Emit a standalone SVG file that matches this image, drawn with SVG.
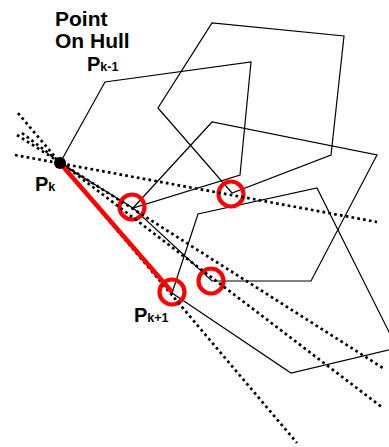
<svg xmlns="http://www.w3.org/2000/svg" width="389" height="447" viewBox="0 0 389 447">
<style>
.poly{fill:none;stroke:#000;stroke-width:1.2;stroke-linejoin:miter}
.dot{fill:none;stroke:#000;stroke-width:2.7;stroke-dasharray:2.7 3.2}
.ring{fill:none;stroke:#ff0000;stroke-width:4.2}
.edge{stroke:#ff0000;stroke-width:4.5;stroke-linecap:butt}
.lbl{font-family:"Liberation Sans",Arial,sans-serif;font-weight:bold;fill:#000}
</style>
<rect width="389" height="447" fill="#fff"/>
<g id="polygon1"><polygon class="poly" points="60,163 105,82 251,62 240,175 133,208"/></g>
<g id="polygon2"><polygon class="poly" points="158,108 232,193 331,155 344,36 212,23"/></g>
<g id="polygon3"><polygon class="poly" points="133,208 212,122 377,155 311,281 212,281"/></g>
<g id="polygon4"><polygon class="poly" points="172,293 198,214 317,188 397,348 291,373"/></g>
<g id="candidates">
<circle id="c1" class="ring" cx="132" cy="207" r="12.5"/>
<circle id="c2" class="ring" cx="231" cy="194" r="12.5"/>
<circle id="c3" class="ring" cx="211" cy="281" r="12.5"/>
<circle id="c4" class="ring" cx="172" cy="292" r="12.5"/>
</g>
<g id="connectors">
<line class="dot" x1="15" y1="155" x2="377" y2="222"/>
<line class="dot" x1="17" y1="135" x2="383" y2="368"/>
<line class="dot" x1="22" y1="133" x2="383" y2="408"/>
<line class="dot" x1="18" y1="113" x2="297" y2="443"/>
<line class="edge" x1="60" y1="163" x2="172" y2="292"/>
</g>
<g id="pk"><circle cx="60" cy="163" r="6" fill="#000"/></g>
<g id="labels">
<text class="lbl" x="55" y="26" font-size="21">Point</text>
<text class="lbl" x="55" y="48" font-size="21">On Hull</text>
<text class="lbl" x="87" y="71" font-size="20">P<tspan font-size="12.5">k-1</tspan></text>
<text class="lbl" x="35" y="191" font-size="20">P<tspan font-size="12.5">k</tspan></text>
<text class="lbl" x="134" y="322" font-size="20">P<tspan font-size="12.5">k+1</tspan></text>
</g>
</svg>
